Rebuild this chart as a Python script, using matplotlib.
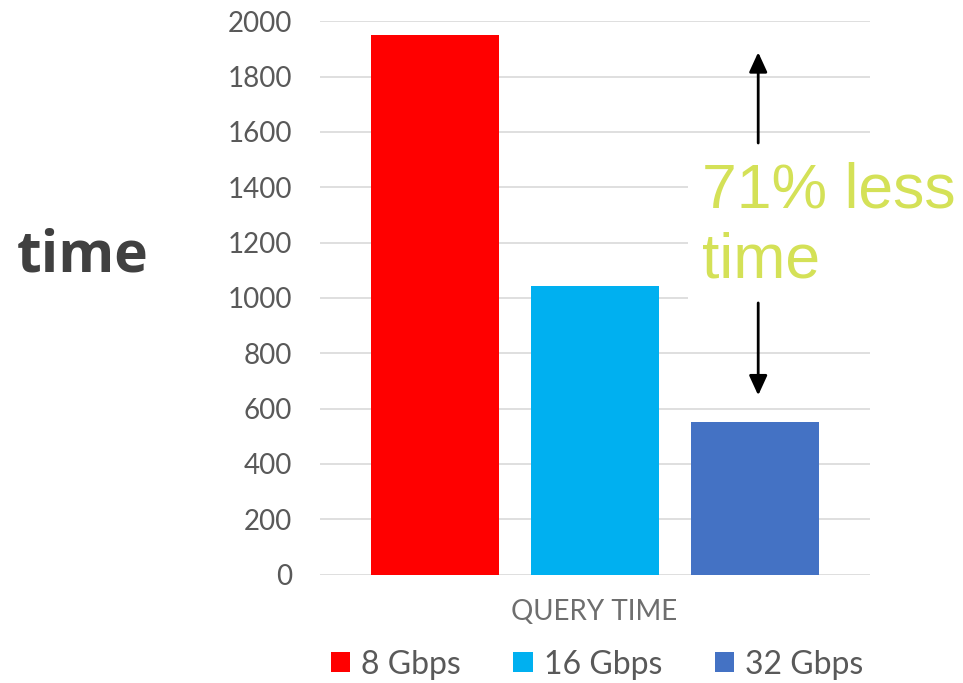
import matplotlib
matplotlib.use("Agg")
import matplotlib.pyplot as plt
from matplotlib.patches import Patch

# Query time by link speed
categories = ["8 Gbps", "16 Gbps", "32 Gbps"]
query_time = [1950, 1045, 550]
bar_colors = ["#FF0000", "#00B0F0", "#4472C4"]
y_ticks = [0, 200, 400, 600, 800, 1000, 1200, 1400, 1600, 1800, 2000]
group_label = "QUERY TIME"
axis_title = "time"
callout = "71% less\ntime"

W, H = 963, 683
fig = plt.figure(figsize=(W / 100, H / 100), dpi=100)

ax_left, ax_right = 320, 870
ax_bottom, ax_top = 574.6, 21.3
ax = fig.add_axes([ax_left / W, (H - ax_bottom) / H,
                   (ax_right - ax_left) / W, (ax_bottom - ax_top) / H])

tick_font = "Lato"
text_gray = "#595959"

positions = list(range(len(categories)))
ax.bar(positions, query_time, width=0.8, color=bar_colors, edgecolor="none", zorder=3)

ax.set_ylim(0, 2000)
ax.set_xlim(1 - 275 / 160, 1 + 275 / 160)
ax.set_yticks(y_ticks)
ax.set_yticklabels([str(t) for t in y_ticks], fontfamily=tick_font,
                   fontsize=20, color=text_gray)
ax.tick_params(axis="y", length=0, pad=20)
ax.set_xticks([])
for s in ax.spines.values():
    s.set_visible(False)
ax.yaxis.grid(True, color="#D9D9D9", linewidth=1.2, zorder=0)
ax.set_axisbelow(True)

# Category label under the bars
fig.text(594 / W, (H - 612) / H, group_label, ha="center", va="center",
         fontfamily=tick_font, fontweight="normal", fontsize=20, color="#6E6E6E")

# Axis title on the left
fig.text(17 / W, (H - 272) / H, axis_title, ha="left", va="baseline",
         fontfamily="Open Sans", fontweight="bold", fontsize=41, color="#404040")

# Callout text on a white box, with arrows spanning the reduction
ax.text(702 / W, (H - 277) / H, callout, transform=fig.transFigure,
        ha="left", va="baseline",
        fontfamily="Liberation Sans", fontsize=45, color="#D4E157",
        linespacing=1.22, zorder=5,
        bbox=dict(facecolor="white", edgecolor="none", pad=10))

x_arrow = 2.02
arrow_style = dict(arrowstyle="-|>,head_length=1.2,head_width=0.55",
                   color="black", linewidth=2.0, shrinkA=0, shrinkB=0,
                   mutation_scale=10)
ax.annotate("", xy=(x_arrow, 1888), xytext=(x_arrow, 1560),
            arrowprops=arrow_style, zorder=6)
ax.annotate("", xy=(x_arrow, 648), xytext=(x_arrow, 982),
            arrowprops=arrow_style, zorder=6)

# Legend
handles = [Patch(facecolor=c, edgecolor="none", label=l)
           for c, l in zip(bar_colors, categories)]
leg = fig.legend(handles=handles, loc="center", bbox_to_anchor=(597 / W, (H - 664.5) / H),
                 ncol=3, frameon=False, handlelength=0.6, handleheight=0.6,
                 handletextpad=0.35, columnspacing=1.65,
                 prop={"family": tick_font, "size": 23})
for t in leg.get_texts():
    t.set_color(text_gray)

fig.savefig("out.png", dpi=100, facecolor="white")
